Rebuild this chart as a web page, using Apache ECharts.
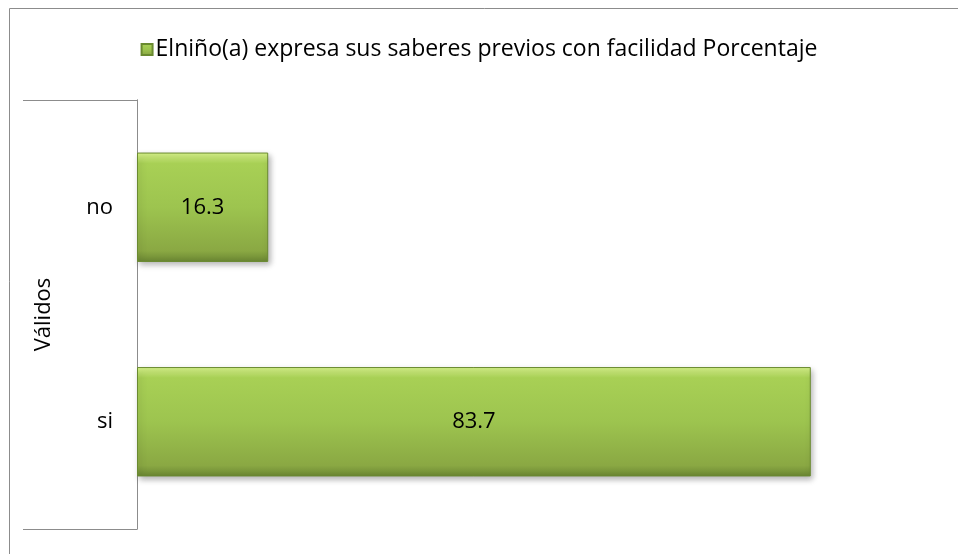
<!DOCTYPE html>
<html>
<head>
<meta charset="utf-8">
<script src="https://cdn.jsdelivr.net/npm/echarts@6/dist/echarts.min.js"></script>
<style>
  html, body { margin: 0; padding: 0; background: #fff; }
  #chart-container { width: 958px; height: 554px; }
</style>
</head>
<body>
<div id="chart-container"></div>
<script>
  const categories = ["si", "no"];
  const groupLabels = ["Válidos"];
  const seriesName = "Elniño(a) expresa sus saberes previos con facilidad Porcentaje";
  const porcentaje = [83.7, 16.3];

  (() => {
    var dom = document.getElementById("chart-container");
    var chart = echarts.init(dom, null, { renderer: "canvas" });
    const font = "Open Sans";
    const barFill = new echarts.graphic.LinearGradient(0, 0, 0, 1, [
      { offset: 0, color: "#d9f58c" },
      { offset: 0.1, color: "#a8d055" },
      { offset: 0.5, color: "#9dc44f" },
      { offset: 0.9, color: "#8aa843" },
      { offset: 1, color: "#6a8632" },
    ]);
    const option = {
      animation: false,
      textStyle: { fontFamily: font },
      graphic: [
        {
          type: "rect",
          shape: { x: 9.5, y: 8.5, width: 1200, height: 1200 },
          style: { fill: "none", stroke: "#8c8c8c", lineWidth: 1 },
          silent: true,
        },
      ],
      legend: {
        top: 33,
        left: "center",
        itemWidth: 11,
        itemHeight: 11,
        itemGap: 4,
        icon: "rect",
        textStyle: { fontSize: 23, color: "#000", fontFamily: font, padding: [0, 0, 0, -2] },
        data: [seriesName],
      },
      grid: { left: 137, right: 16, top: 100, bottom: 25, containLabel: false },
      xAxis: {
        type: "value",
        min: 0,
        max: 100,
        show: false,
      },
      yAxis: [
        {
          type: "category",
          data: categories,
          axisLine: { show: true, lineStyle: { color: "#8c8c8c" } },
          axisTick: { show: false },
          axisLabel: { fontSize: 22, color: "#000", margin: 24, fontFamily: font },
        },
        {
          type: "category",
          data: groupLabels,
          position: "left",
          axisLine: { show: true, lineStyle: { color: "#8c8c8c" } },
          axisTick: { show: true, length: 114, lineStyle: { color: "#8c8c8c" } },
          axisLabel: { rotate: 90, fontSize: 22, color: "#000", margin: 82, fontFamily: font },
        },
      ],
      series: [
        {
          name: seriesName,
          type: "bar",
          yAxisIndex: 0,
          data: porcentaje,
          barWidth: "51%",
          itemStyle: {
            color: barFill,
            borderColor: "#6a8a30",
            borderWidth: 1,
            shadowColor: "rgba(0,0,0,0.3)",
            shadowBlur: 6,
            shadowOffsetX: 2,
            shadowOffsetY: 3,
          },
          label: {
            show: true,
            position: "inside",
            fontSize: 22,
            color: "#000",
            fontFamily: font,
            formatter: (p) => p.value.toFixed(1),
          },
        },
      ],
    };
    chart.setOption(option);
    window.addEventListener("resize", chart.resize);
  })();
</script>
</body>
</html>
